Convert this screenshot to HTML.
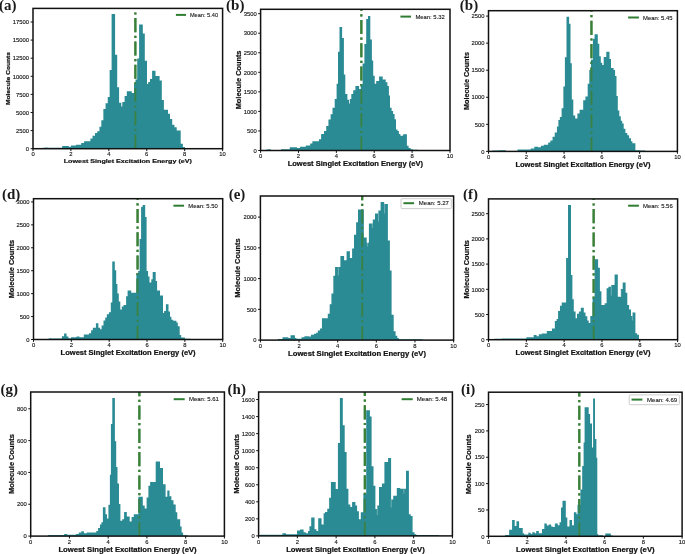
<!DOCTYPE html>
<html>
<head>
<meta charset="utf-8">
<title>Lowest Singlet Excitation Energy histograms</title>
<style>
html,body{margin:0;padding:0;background:#fff;}
body{width:685px;height:554px;overflow:hidden;font-family:"Liberation Sans",sans-serif;}
svg{display:block;will-change:transform;}
svg text{font-family:"Liberation Sans",sans-serif;}
svg text.pl{font-family:"Liberation Serif",serif;}
</style>
</head>
<body>
<svg width="685" height="554" viewBox="0 0 685 554">
<rect x="0" y="0" width="685" height="554" fill="#ffffff"/>
<g>
<line x1="135.38" y1="148.7" x2="135.38" y2="8.4" stroke="#2e7d32" stroke-width="2.2" stroke-dasharray="14.1 3.5 2.2 3.5"/>
<polygon points="42.48,148.7 42.48,147.75 45.04,147.75 45.04,147.45 47.6,147.45 47.6,147.81 62.2,147.81 62.2,145.91 68.77,145.91 68.77,146.64 70.96,146.64 70.96,145.62 76.07,145.62 76.07,144.74 81.18,144.74 81.18,142.99 84.09,142.99 84.09,141.24 90.37,141.24 90.37,138.61 92.56,138.61 92.56,135.69 95.04,135.69 95.04,133.07 97.23,133.07 97.23,131.31 99.42,131.31 99.42,126.64 101.32,126.64 101.32,120.36 103.36,120.36 103.36,109.12 105.55,109.12 105.55,103.28 107.74,103.28 107.74,97.01 109.64,97.01 109.64,70 111.6,70 111.6,14.1 115.1,14.1 115.1,54.7 117.2,54.7 117.2,87.2 119.1,87.2 119.1,102.8 121.3,102.8 121.3,106.5 122.3,106.5 122.3,102.1 124.6,102.1 124.6,96 126.8,96 126.8,91.2 131.8,91.2 131.8,93 134,93 134,83.9 135.5,83.9 135.5,79.5 137.2,79.5 137.2,58.4 139.1,58.4 139.1,24.5 142.8,24.5 142.8,33.5 144.8,33.5 144.8,60.8 147,60.8 147,83.9 148.2,83.9 148.2,82 150,82 150,79.1 152.1,79.1 152.1,70.8 155.5,70.8 155.5,75.9 159.6,75.9 159.6,80.6 161.8,80.6 161.8,99.9 163.9,99.9 163.9,109.7 168,109.7 168,113.8 170,113.8 170,118.9 172.2,118.9 172.2,124.7 174.4,124.7 174.4,127.2 176.7,127.2 176.7,130.6 180.7,130.6 180.7,143.7 182.9,143.7 182.9,147 185,147 185,148.2 200,148.2 200,147.9 209.33,147.9 209.33,148.7" fill="#2a8b94"/>
<line x1="135.38" y1="148.7" x2="135.38" y2="8.4" stroke="#3c8038" stroke-width="1.9" stroke-opacity="0.85" stroke-dasharray="14.1 3.5 2.2 3.5"/>
<rect x="33" y="8.4" width="189.6" height="140.3" fill="none" stroke="#111" stroke-width="1.5"/>
<line x1="33" y1="148.7" x2="33" y2="151.1" stroke="#111" stroke-width="1"/>
<text x="33" y="156.4" font-size="5.4" text-anchor="middle" textLength="3.25" lengthAdjust="spacingAndGlyphs" stroke="#111" stroke-width="0.12" fill="#111">0</text>
<line x1="70.92" y1="148.7" x2="70.92" y2="151.1" stroke="#111" stroke-width="1"/>
<text x="70.92" y="156.4" font-size="5.4" text-anchor="middle" textLength="3.25" lengthAdjust="spacingAndGlyphs" stroke="#111" stroke-width="0.12" fill="#111">2</text>
<line x1="108.84" y1="148.7" x2="108.84" y2="151.1" stroke="#111" stroke-width="1"/>
<text x="108.84" y="156.4" font-size="5.4" text-anchor="middle" textLength="3.25" lengthAdjust="spacingAndGlyphs" stroke="#111" stroke-width="0.12" fill="#111">4</text>
<line x1="146.76" y1="148.7" x2="146.76" y2="151.1" stroke="#111" stroke-width="1"/>
<text x="146.76" y="156.4" font-size="5.4" text-anchor="middle" textLength="3.25" lengthAdjust="spacingAndGlyphs" stroke="#111" stroke-width="0.12" fill="#111">6</text>
<line x1="184.68" y1="148.7" x2="184.68" y2="151.1" stroke="#111" stroke-width="1"/>
<text x="184.68" y="156.4" font-size="5.4" text-anchor="middle" textLength="3.25" lengthAdjust="spacingAndGlyphs" stroke="#111" stroke-width="0.12" fill="#111">8</text>
<line x1="222.6" y1="148.7" x2="222.6" y2="151.1" stroke="#111" stroke-width="1"/>
<text x="222.6" y="156.4" font-size="5.4" text-anchor="middle" textLength="6.5" lengthAdjust="spacingAndGlyphs" stroke="#111" stroke-width="0.12" fill="#111">10</text>
<line x1="30.6" y1="148.7" x2="33" y2="148.7" stroke="#111" stroke-width="1"/>
<text x="29.1" y="150.9" font-size="5.4" text-anchor="end" textLength="3.25" lengthAdjust="spacingAndGlyphs" stroke="#111" stroke-width="0.12" fill="#111">0</text>
<line x1="30.6" y1="130.6" x2="33" y2="130.6" stroke="#111" stroke-width="1"/>
<text x="29.1" y="132.8" font-size="5.4" text-anchor="end" textLength="13" lengthAdjust="spacingAndGlyphs" stroke="#111" stroke-width="0.12" fill="#111">2500</text>
<line x1="30.6" y1="112.5" x2="33" y2="112.5" stroke="#111" stroke-width="1"/>
<text x="29.1" y="114.7" font-size="5.4" text-anchor="end" textLength="13" lengthAdjust="spacingAndGlyphs" stroke="#111" stroke-width="0.12" fill="#111">5000</text>
<line x1="30.6" y1="94.4" x2="33" y2="94.4" stroke="#111" stroke-width="1"/>
<text x="29.1" y="96.6" font-size="5.4" text-anchor="end" textLength="13" lengthAdjust="spacingAndGlyphs" stroke="#111" stroke-width="0.12" fill="#111">7500</text>
<line x1="30.6" y1="76.3" x2="33" y2="76.3" stroke="#111" stroke-width="1"/>
<text x="29.1" y="78.5" font-size="5.4" text-anchor="end" textLength="16.25" lengthAdjust="spacingAndGlyphs" stroke="#111" stroke-width="0.12" fill="#111">10000</text>
<line x1="30.6" y1="58.2" x2="33" y2="58.2" stroke="#111" stroke-width="1"/>
<text x="29.1" y="60.4" font-size="5.4" text-anchor="end" textLength="16.25" lengthAdjust="spacingAndGlyphs" stroke="#111" stroke-width="0.12" fill="#111">12500</text>
<line x1="30.6" y1="40.1" x2="33" y2="40.1" stroke="#111" stroke-width="1"/>
<text x="29.1" y="42.3" font-size="5.4" text-anchor="end" textLength="16.25" lengthAdjust="spacingAndGlyphs" stroke="#111" stroke-width="0.12" fill="#111">15000</text>
<line x1="30.6" y1="22" x2="33" y2="22" stroke="#111" stroke-width="1"/>
<text x="29.1" y="24.2" font-size="5.4" text-anchor="end" textLength="16.25" lengthAdjust="spacingAndGlyphs" stroke="#111" stroke-width="0.12" fill="#111">17500</text>
<text x="127.8" y="162.9" font-size="6.01" font-weight="bold" text-anchor="middle" textLength="128.2" lengthAdjust="spacingAndGlyphs" stroke="#111" stroke-width="0.2" fill="#111">Lowest Singlet Excitation Energy (eV)</text>
<text transform="translate(9.78 78.55) rotate(-90)" font-size="6.01" font-weight="bold" text-anchor="middle" textLength="53" lengthAdjust="spacingAndGlyphs" stroke="#111" stroke-width="0.2" fill="#111">Molecule Counts</text>
<line x1="175.9" y1="14.9" x2="186" y2="14.9" stroke="#2e7d32" stroke-width="2"/>
<text x="189.9" y="17" font-size="5.5" textLength="28.2" lengthAdjust="spacingAndGlyphs" stroke="#111" stroke-width="0.1" fill="#111">Mean: 5.40</text>
<text class="pl" x="-1" y="9.9" font-size="15" font-weight="bold" fill="#1a1a1a">(a)</text>
</g>
<g>
<line x1="361.36" y1="150.5" x2="361.36" y2="9.3" stroke="#2e7d32" stroke-width="2.2" stroke-dasharray="14.1 3.5 2.2 3.5"/>
<polygon points="266.28,150.5 266.28,149.55 268.52,149.55 268.52,149.25 270.76,149.25 270.76,149.96 280.98,149.96 280.98,149.37 289.74,149.37 289.74,147.18 297.04,147.18 297.04,147.91 299.96,147.91 299.96,146.74 305.8,146.74 305.8,145.43 310.18,145.43 310.18,143.53 312.36,143.53 312.36,141.34 318.93,141.34 318.93,139.15 321.12,139.15 321.12,134.04 324.04,134.04 324.04,131.12 326.23,131.12 326.23,126.01 328.42,126.01 328.42,119.45 330.61,119.45 330.61,114.34 332.51,114.34 332.51,107.77 334.7,107.77 334.7,99 336.5,99 336.5,99.01 336.6,99.01 336.6,83.8 338,83.8 338,51.8 339.5,51.8 339.5,27 342.1,27 342.1,37.9 343.9,37.9 343.9,74.4 345.3,74.4 345.3,93.9 347.4,93.9 347.4,99.7 349,99.7 349,103.4 349.8,103.4 349.8,99 351.3,99 351.3,93.9 353.2,93.9 353.2,90.2 355.4,90.2 355.4,85.9 359.1,85.9 359.1,88.9 360.8,88.9 360.8,84.5 362.6,84.5 362.6,63.4 364.4,63.4 364.4,43.9 366.2,43.9 366.2,18.9 368,18.9 368,16.1 370.3,16.1 370.3,39.5 371.9,39.5 371.9,60.4 373.2,60.4 373.2,75.8 374.7,75.8 374.7,83.8 376.2,83.8 376.2,80.9 379.1,80.9 379.1,76.5 382.7,76.5 382.7,79.4 385.7,79.4 385.7,82.3 387.4,82.3 387.4,86 388.9,86 388.9,95.5 390,95.5 390,107.8 391.6,107.8 391.6,110.9 393.1,110.9 393.1,113.9 394.6,113.9 394.6,119.3 396,119.3 396,129.4 397.5,129.4 397.5,131.1 398.9,131.1 398.9,134.1 400.4,134.1 400.4,135.8 403.1,135.8 403.1,134.3 406.9,134.3 406.9,145.7 408.6,145.7 408.6,148.1 410.6,148.1 410.6,149.2 412.7,149.2 412.7,149.7 417.8,149.7 417.8,150.5" fill="#2a8b94"/>
<line x1="361.36" y1="150.5" x2="361.36" y2="9.3" stroke="#3c8038" stroke-width="1.9" stroke-opacity="0.85" stroke-dasharray="14.1 3.5 2.2 3.5"/>
<rect x="260.6" y="9.3" width="189.4" height="141.2" fill="none" stroke="#111" stroke-width="1.5"/>
<line x1="260.6" y1="150.5" x2="260.6" y2="152.9" stroke="#111" stroke-width="1"/>
<text x="260.6" y="158.2" font-size="5.4" text-anchor="middle" textLength="3.25" lengthAdjust="spacingAndGlyphs" stroke="#111" stroke-width="0.12" fill="#111">0</text>
<line x1="298.48" y1="150.5" x2="298.48" y2="152.9" stroke="#111" stroke-width="1"/>
<text x="298.48" y="158.2" font-size="5.4" text-anchor="middle" textLength="3.25" lengthAdjust="spacingAndGlyphs" stroke="#111" stroke-width="0.12" fill="#111">2</text>
<line x1="336.36" y1="150.5" x2="336.36" y2="152.9" stroke="#111" stroke-width="1"/>
<text x="336.36" y="158.2" font-size="5.4" text-anchor="middle" textLength="3.25" lengthAdjust="spacingAndGlyphs" stroke="#111" stroke-width="0.12" fill="#111">4</text>
<line x1="374.24" y1="150.5" x2="374.24" y2="152.9" stroke="#111" stroke-width="1"/>
<text x="374.24" y="158.2" font-size="5.4" text-anchor="middle" textLength="3.25" lengthAdjust="spacingAndGlyphs" stroke="#111" stroke-width="0.12" fill="#111">6</text>
<line x1="412.12" y1="150.5" x2="412.12" y2="152.9" stroke="#111" stroke-width="1"/>
<text x="412.12" y="158.2" font-size="5.4" text-anchor="middle" textLength="3.25" lengthAdjust="spacingAndGlyphs" stroke="#111" stroke-width="0.12" fill="#111">8</text>
<line x1="450" y1="150.5" x2="450" y2="152.9" stroke="#111" stroke-width="1"/>
<text x="450" y="158.2" font-size="5.4" text-anchor="middle" textLength="6.5" lengthAdjust="spacingAndGlyphs" stroke="#111" stroke-width="0.12" fill="#111">10</text>
<line x1="258.2" y1="150.5" x2="260.6" y2="150.5" stroke="#111" stroke-width="1"/>
<text x="256.7" y="152.7" font-size="5.4" text-anchor="end" textLength="3.25" lengthAdjust="spacingAndGlyphs" stroke="#111" stroke-width="0.12" fill="#111">0</text>
<line x1="258.2" y1="130.95" x2="260.6" y2="130.95" stroke="#111" stroke-width="1"/>
<text x="256.7" y="133.15" font-size="5.4" text-anchor="end" textLength="9.75" lengthAdjust="spacingAndGlyphs" stroke="#111" stroke-width="0.12" fill="#111">500</text>
<line x1="258.2" y1="111.4" x2="260.6" y2="111.4" stroke="#111" stroke-width="1"/>
<text x="256.7" y="113.6" font-size="5.4" text-anchor="end" textLength="13" lengthAdjust="spacingAndGlyphs" stroke="#111" stroke-width="0.12" fill="#111">1000</text>
<line x1="258.2" y1="91.85" x2="260.6" y2="91.85" stroke="#111" stroke-width="1"/>
<text x="256.7" y="94.05" font-size="5.4" text-anchor="end" textLength="13" lengthAdjust="spacingAndGlyphs" stroke="#111" stroke-width="0.12" fill="#111">1500</text>
<line x1="258.2" y1="72.3" x2="260.6" y2="72.3" stroke="#111" stroke-width="1"/>
<text x="256.7" y="74.5" font-size="5.4" text-anchor="end" textLength="13" lengthAdjust="spacingAndGlyphs" stroke="#111" stroke-width="0.12" fill="#111">2000</text>
<line x1="258.2" y1="52.75" x2="260.6" y2="52.75" stroke="#111" stroke-width="1"/>
<text x="256.7" y="54.95" font-size="5.4" text-anchor="end" textLength="13" lengthAdjust="spacingAndGlyphs" stroke="#111" stroke-width="0.12" fill="#111">2500</text>
<line x1="258.2" y1="33.2" x2="260.6" y2="33.2" stroke="#111" stroke-width="1"/>
<text x="256.7" y="35.4" font-size="5.4" text-anchor="end" textLength="13" lengthAdjust="spacingAndGlyphs" stroke="#111" stroke-width="0.12" fill="#111">3000</text>
<line x1="258.2" y1="13.65" x2="260.6" y2="13.65" stroke="#111" stroke-width="1"/>
<text x="256.7" y="15.85" font-size="5.4" text-anchor="end" textLength="13" lengthAdjust="spacingAndGlyphs" stroke="#111" stroke-width="0.12" fill="#111">3500</text>
<text x="355.3" y="165.59" font-size="6.35" font-weight="bold" text-anchor="middle" textLength="135.3" lengthAdjust="spacingAndGlyphs" stroke="#111" stroke-width="0.2" fill="#111">Lowest Singlet Excitation Energy (eV)</text>
<text transform="translate(240.81 79.9) rotate(-90)" font-size="6.35" font-weight="bold" text-anchor="middle" textLength="58.7" lengthAdjust="spacingAndGlyphs" stroke="#111" stroke-width="0.2" fill="#111">Molecule Counts</text>
<line x1="400.4" y1="16.6" x2="411" y2="16.6" stroke="#2e7d32" stroke-width="2"/>
<text x="415.4" y="18.7" font-size="5.5" textLength="29.4" lengthAdjust="spacingAndGlyphs" stroke="#111" stroke-width="0.1" fill="#111">Mean: 5.32</text>
<text class="pl" x="226.1" y="10.2" font-size="15" font-weight="bold" fill="#1a1a1a">(b)</text>
</g>
<g>
<line x1="591.45" y1="151.4" x2="591.45" y2="10.7" stroke="#2e7d32" stroke-width="2.2" stroke-dasharray="14.1 3.5 2.2 3.5"/>
<polygon points="492.28,151.4 492.28,150.45 499.06,150.45 499.06,150.15 505.84,150.15 505.84,150.93 517.52,150.93 517.52,149.62 530.66,149.62 530.66,148.45 534.31,148.45 534.31,146.7 537.96,146.7 537.96,147.28 540.88,147.28 540.88,145.82 543.8,145.82 543.8,144.8 548.18,144.8 548.18,142.61 550.36,142.61 550.36,140.42 552.55,140.42 552.55,136.77 554.74,136.77 554.74,132.39 556.93,132.39 556.93,126.55 558.39,126.55 558.39,119.99 559.85,119.99 559.85,117.07 561.61,117.07 561.61,108.31 563.36,108.31 563.36,86.6 564.9,86.6 564.9,57.3 566.5,57.3 566.5,16.8 569.1,16.8 569.1,23.8 570.5,23.8 570.5,63.2 571.8,63.2 571.8,99.5 573.3,99.5 573.3,115.6 575.2,115.6 575.2,118.5 577.4,118.5 577.4,113.4 579.6,113.4 579.6,109.8 583.2,109.8 583.2,100.3 585.4,100.3 585.4,96.6 587.7,96.6 587.7,83.7 589.3,83.7 589.3,70 591,70 591,59.8 592.9,59.8 592.9,38.7 594.6,38.7 594.6,34.3 597.8,34.3 597.8,43.8 599.3,43.8 599.3,56.2 600.8,56.2 600.8,62.7 602.2,62.7 602.2,64.9 603.7,64.9 603.7,56.9 606.3,56.9 606.3,51.8 609.5,51.8 609.5,59.1 611,59.1 611,67.9 613.6,67.9 613.6,70 615.1,70 615.1,75.9 616.5,75.9 616.5,95.9 617.8,95.9 617.8,110.5 619.3,110.5 619.3,116.3 620.8,116.3 620.8,120.7 622.2,120.7 622.2,123.6 623.7,123.6 623.7,128.7 625.4,128.7 625.4,133.1 627.3,133.1 627.3,135.3 629.1,135.3 629.1,138.2 631,138.2 631,141.2 632.4,141.2 632.4,143.3 635.4,143.3 635.4,150.2 639.7,150.2 639.7,150.6 645.29,150.6 645.29,151.4" fill="#2a8b94"/>
<line x1="591.45" y1="151.4" x2="591.45" y2="10.7" stroke="#3c8038" stroke-width="1.9" stroke-opacity="0.85" stroke-dasharray="14.1 3.5 2.2 3.5"/>
<rect x="488.5" y="10.7" width="188.9" height="140.7" fill="none" stroke="#111" stroke-width="1.5"/>
<line x1="488.5" y1="151.4" x2="488.5" y2="153.8" stroke="#111" stroke-width="1"/>
<text x="488.5" y="159.1" font-size="5.4" text-anchor="middle" textLength="3.25" lengthAdjust="spacingAndGlyphs" stroke="#111" stroke-width="0.12" fill="#111">0</text>
<line x1="526.28" y1="151.4" x2="526.28" y2="153.8" stroke="#111" stroke-width="1"/>
<text x="526.28" y="159.1" font-size="5.4" text-anchor="middle" textLength="3.25" lengthAdjust="spacingAndGlyphs" stroke="#111" stroke-width="0.12" fill="#111">2</text>
<line x1="564.06" y1="151.4" x2="564.06" y2="153.8" stroke="#111" stroke-width="1"/>
<text x="564.06" y="159.1" font-size="5.4" text-anchor="middle" textLength="3.25" lengthAdjust="spacingAndGlyphs" stroke="#111" stroke-width="0.12" fill="#111">4</text>
<line x1="601.84" y1="151.4" x2="601.84" y2="153.8" stroke="#111" stroke-width="1"/>
<text x="601.84" y="159.1" font-size="5.4" text-anchor="middle" textLength="3.25" lengthAdjust="spacingAndGlyphs" stroke="#111" stroke-width="0.12" fill="#111">6</text>
<line x1="639.62" y1="151.4" x2="639.62" y2="153.8" stroke="#111" stroke-width="1"/>
<text x="639.62" y="159.1" font-size="5.4" text-anchor="middle" textLength="3.25" lengthAdjust="spacingAndGlyphs" stroke="#111" stroke-width="0.12" fill="#111">8</text>
<line x1="677.4" y1="151.4" x2="677.4" y2="153.8" stroke="#111" stroke-width="1"/>
<text x="677.4" y="159.1" font-size="5.4" text-anchor="middle" textLength="6.5" lengthAdjust="spacingAndGlyphs" stroke="#111" stroke-width="0.12" fill="#111">10</text>
<line x1="486.1" y1="151.4" x2="488.5" y2="151.4" stroke="#111" stroke-width="1"/>
<text x="484.6" y="153.6" font-size="5.4" text-anchor="end" textLength="3.25" lengthAdjust="spacingAndGlyphs" stroke="#111" stroke-width="0.12" fill="#111">0</text>
<line x1="486.1" y1="124.34" x2="488.5" y2="124.34" stroke="#111" stroke-width="1"/>
<text x="484.6" y="126.54" font-size="5.4" text-anchor="end" textLength="9.75" lengthAdjust="spacingAndGlyphs" stroke="#111" stroke-width="0.12" fill="#111">500</text>
<line x1="486.1" y1="97.28" x2="488.5" y2="97.28" stroke="#111" stroke-width="1"/>
<text x="484.6" y="99.48" font-size="5.4" text-anchor="end" textLength="13" lengthAdjust="spacingAndGlyphs" stroke="#111" stroke-width="0.12" fill="#111">1000</text>
<line x1="486.1" y1="70.22" x2="488.5" y2="70.22" stroke="#111" stroke-width="1"/>
<text x="484.6" y="72.42" font-size="5.4" text-anchor="end" textLength="13" lengthAdjust="spacingAndGlyphs" stroke="#111" stroke-width="0.12" fill="#111">1500</text>
<line x1="486.1" y1="43.16" x2="488.5" y2="43.16" stroke="#111" stroke-width="1"/>
<text x="484.6" y="45.36" font-size="5.4" text-anchor="end" textLength="13" lengthAdjust="spacingAndGlyphs" stroke="#111" stroke-width="0.12" fill="#111">2000</text>
<line x1="486.1" y1="16.1" x2="488.5" y2="16.1" stroke="#111" stroke-width="1"/>
<text x="484.6" y="18.3" font-size="5.4" text-anchor="end" textLength="13" lengthAdjust="spacingAndGlyphs" stroke="#111" stroke-width="0.12" fill="#111">2500</text>
<text x="582.95" y="166.58" font-size="6.33" font-weight="bold" text-anchor="middle" textLength="135" lengthAdjust="spacingAndGlyphs" stroke="#111" stroke-width="0.2" fill="#111">Lowest Singlet Excitation Energy (eV)</text>
<text transform="translate(468.51 81.05) rotate(-90)" font-size="6.33" font-weight="bold" text-anchor="middle" textLength="58" lengthAdjust="spacingAndGlyphs" stroke="#111" stroke-width="0.2" fill="#111">Molecule Counts</text>
<line x1="628.1" y1="17.5" x2="638.9" y2="17.5" stroke="#2e7d32" stroke-width="2"/>
<text x="643" y="19.6" font-size="5.5" textLength="29.5" lengthAdjust="spacingAndGlyphs" stroke="#111" stroke-width="0.1" fill="#111">Mean: 5.45</text>
<text class="pl" x="459.8" y="10.3" font-size="15" font-weight="bold" fill="#1a1a1a">(b)</text>
</g>
<g>
<line x1="137.56" y1="339.5" x2="137.56" y2="198.7" stroke="#2e7d32" stroke-width="2.2" stroke-dasharray="14.1 3.5 2.2 3.5"/>
<polygon points="48.64,339.5 48.64,338.55 49.79,338.55 49.79,338.25 50.95,338.25 50.95,338.5 61.9,338.5 61.9,336.16 64.09,336.16 64.09,333.53 66.57,333.53 66.57,336.45 68.47,336.45 68.47,338.2 70.95,338.2 70.95,337.18 76.5,337.18 76.5,336.45 79.42,336.45 79.42,337.18 83.8,337.18 83.8,334.55 88.91,334.55 88.91,333.24 91.09,333.24 91.09,330.32 92.85,330.32 92.85,327.69 95.91,327.69 95.91,323.31 98.39,323.31 98.39,327.69 100.15,327.69 100.15,329.15 101.61,329.15 101.61,325.5 103.5,325.5 103.5,320.39 105.26,320.39 105.26,317.47 106.86,317.47 106.86,314.26 108.91,314.26 108.91,312.36 110.8,312.36 110.8,302.58 112.26,302.58 112.26,261.5 114.8,261.5 114.8,270.2 116.2,270.2 116.2,283.9 117.4,283.9 117.4,293.4 118.8,293.4 118.8,301.4 120.3,301.4 120.3,309.4 121.8,309.4 121.8,306.5 123.5,306.5 123.5,305.1 126.1,305.1 126.1,296.3 127.6,296.3 127.6,290.5 131.2,290.5 131.2,292.8 136.4,292.8 136.4,273.7 138.2,273.7 138.2,271 139.6,271 139.6,238.9 141.1,238.9 141.1,207 142.6,207 142.6,205 145.2,205 145.2,217 146.6,217 146.6,271 148.1,271 148.1,276.6 149.5,276.6 149.5,282.4 151.3,282.4 151.3,279.2 152.7,279.2 152.7,272 155.7,272 155.7,281 157.1,281 157.1,290.5 160,290.5 160,295.6 163,295.6 163,313.1 164.1,313.1 164.1,310.9 165.9,310.9 165.9,304.3 168.5,304.3 168.5,311.6 170,311.6 170,316.7 171.4,316.7 171.4,319.7 173.2,319.7 173.2,320.7 176.4,320.7 176.4,322.6 177.8,322.6 177.8,326.2 179.7,326.2 179.7,335 181.2,335 181.2,337.6 184.9,337.6 184.9,338.7 190.54,338.7 190.54,339.5" fill="#2a8b94"/>
<line x1="137.56" y1="339.5" x2="137.56" y2="198.7" stroke="#3c8038" stroke-width="1.9" stroke-opacity="0.85" stroke-dasharray="14.1 3.5 2.2 3.5"/>
<rect x="33.5" y="198.7" width="189.2" height="140.8" fill="none" stroke="#111" stroke-width="1.5"/>
<line x1="33.5" y1="339.5" x2="33.5" y2="341.9" stroke="#111" stroke-width="1"/>
<text x="33.5" y="347.2" font-size="5.4" text-anchor="middle" textLength="3.25" lengthAdjust="spacingAndGlyphs" stroke="#111" stroke-width="0.12" fill="#111">0</text>
<line x1="71.34" y1="339.5" x2="71.34" y2="341.9" stroke="#111" stroke-width="1"/>
<text x="71.34" y="347.2" font-size="5.4" text-anchor="middle" textLength="3.25" lengthAdjust="spacingAndGlyphs" stroke="#111" stroke-width="0.12" fill="#111">2</text>
<line x1="109.18" y1="339.5" x2="109.18" y2="341.9" stroke="#111" stroke-width="1"/>
<text x="109.18" y="347.2" font-size="5.4" text-anchor="middle" textLength="3.25" lengthAdjust="spacingAndGlyphs" stroke="#111" stroke-width="0.12" fill="#111">4</text>
<line x1="147.02" y1="339.5" x2="147.02" y2="341.9" stroke="#111" stroke-width="1"/>
<text x="147.02" y="347.2" font-size="5.4" text-anchor="middle" textLength="3.25" lengthAdjust="spacingAndGlyphs" stroke="#111" stroke-width="0.12" fill="#111">6</text>
<line x1="184.86" y1="339.5" x2="184.86" y2="341.9" stroke="#111" stroke-width="1"/>
<text x="184.86" y="347.2" font-size="5.4" text-anchor="middle" textLength="3.25" lengthAdjust="spacingAndGlyphs" stroke="#111" stroke-width="0.12" fill="#111">8</text>
<line x1="222.7" y1="339.5" x2="222.7" y2="341.9" stroke="#111" stroke-width="1"/>
<text x="222.7" y="347.2" font-size="5.4" text-anchor="middle" textLength="6.5" lengthAdjust="spacingAndGlyphs" stroke="#111" stroke-width="0.12" fill="#111">10</text>
<line x1="31.1" y1="339.5" x2="33.5" y2="339.5" stroke="#111" stroke-width="1"/>
<text x="29.6" y="341.7" font-size="5.4" text-anchor="end" textLength="3.25" lengthAdjust="spacingAndGlyphs" stroke="#111" stroke-width="0.12" fill="#111">0</text>
<line x1="31.1" y1="316.57" x2="33.5" y2="316.57" stroke="#111" stroke-width="1"/>
<text x="29.6" y="318.77" font-size="5.4" text-anchor="end" textLength="9.75" lengthAdjust="spacingAndGlyphs" stroke="#111" stroke-width="0.12" fill="#111">500</text>
<line x1="31.1" y1="293.64" x2="33.5" y2="293.64" stroke="#111" stroke-width="1"/>
<text x="29.6" y="295.84" font-size="5.4" text-anchor="end" textLength="13" lengthAdjust="spacingAndGlyphs" stroke="#111" stroke-width="0.12" fill="#111">1000</text>
<line x1="31.1" y1="270.71" x2="33.5" y2="270.71" stroke="#111" stroke-width="1"/>
<text x="29.6" y="272.91" font-size="5.4" text-anchor="end" textLength="13" lengthAdjust="spacingAndGlyphs" stroke="#111" stroke-width="0.12" fill="#111">1500</text>
<line x1="31.1" y1="247.78" x2="33.5" y2="247.78" stroke="#111" stroke-width="1"/>
<text x="29.6" y="249.98" font-size="5.4" text-anchor="end" textLength="13" lengthAdjust="spacingAndGlyphs" stroke="#111" stroke-width="0.12" fill="#111">2000</text>
<line x1="31.1" y1="224.85" x2="33.5" y2="224.85" stroke="#111" stroke-width="1"/>
<text x="29.6" y="227.05" font-size="5.4" text-anchor="end" textLength="13" lengthAdjust="spacingAndGlyphs" stroke="#111" stroke-width="0.12" fill="#111">2500</text>
<line x1="31.1" y1="201.92" x2="33.5" y2="201.92" stroke="#111" stroke-width="1"/>
<text x="29.6" y="204.12" font-size="5.4" text-anchor="end" textLength="13" lengthAdjust="spacingAndGlyphs" stroke="#111" stroke-width="0.12" fill="#111">3000</text>
<text x="128.1" y="354.58" font-size="6.33" font-weight="bold" text-anchor="middle" textLength="135" lengthAdjust="spacingAndGlyphs" stroke="#111" stroke-width="0.2" fill="#111">Lowest Singlet Excitation Energy (eV)</text>
<text transform="translate(13.51 269.1) rotate(-90)" font-size="6.33" font-weight="bold" text-anchor="middle" textLength="58.5" lengthAdjust="spacingAndGlyphs" stroke="#111" stroke-width="0.2" fill="#111">Molecule Counts</text>
<line x1="173.4" y1="205.7" x2="184.1" y2="205.7" stroke="#2e7d32" stroke-width="2"/>
<text x="188.3" y="207.8" font-size="5.5" textLength="29.5" lengthAdjust="spacingAndGlyphs" stroke="#111" stroke-width="0.1" fill="#111">Mean: 5.50</text>
<text class="pl" x="1.9" y="198.7" font-size="15" font-weight="bold" fill="#1a1a1a">(d)</text>
</g>
<g>
<line x1="362.22" y1="340.1" x2="362.22" y2="196" stroke="#2e7d32" stroke-width="2.2" stroke-dasharray="14.1 3.5 2.2 3.5"/>
<polygon points="277.79,340.1 277.79,339.15 278.33,339.15 278.33,338.85 278.87,338.85 278.87,338.93 282.52,338.93 282.52,337.18 288.36,337.18 288.36,337.91 290.55,337.91 290.55,335.28 294.93,335.28 294.93,337.91 296.39,337.91 296.39,338.79 301.5,338.79 301.5,337.18 304.42,337.18 304.42,336.16 308.8,336.16 308.8,336.45 310.99,336.45 310.99,334.7 313.91,334.7 313.91,333.82 316.09,333.82 316.09,332.8 317.85,332.8 317.85,330.61 320.04,330.61 320.04,328.42 321.93,328.42 321.93,318.2 327.77,318.2 327.77,313.82 329.67,313.82 329.67,304.34 331.42,304.34 331.42,293.39 333.32,293.39 333.32,275.87 335.07,275.87 335.07,267.1 340.4,267.1 340.4,255.9 344.1,255.9 344.1,260.2 346.6,260.2 346.6,251.2 349.9,251.2 349.9,258 352.1,258 352.1,248.6 354,248.6 354,234.7 356.1,234.7 356.1,222.3 358,222.3 358,209.6 363.8,209.6 363.8,237.6 366.7,237.6 366.7,242.7 368.9,242.7 368.9,223.4 372.8,223.4 372.8,219.4 375,219.4 375,213.5 378.4,213.5 378.4,210.6 380.6,210.6 380.6,202.1 384.2,202.1 384.2,204 387.9,204 387.9,240.5 389.9,240.5 389.9,270.5 391.6,270.5 391.6,314.8 393.7,314.8 393.7,331.3 395.6,331.3 395.6,335.7 397.3,335.7 397.3,337.9 398.8,337.9 398.8,339.3 413,339.3 413,339.3 422.69,339.3 422.69,340.1" fill="#2a8b94"/>
<line x1="384.6" y1="203.6" x2="384.6" y2="213.5" stroke="#fff" stroke-width="0.55" stroke-opacity="0.6"/>
<line x1="378.5" y1="213.5" x2="378.5" y2="221.5" stroke="#fff" stroke-width="0.55" stroke-opacity="0.6"/>
<line x1="372.4" y1="223.5" x2="372.4" y2="228" stroke="#fff" stroke-width="0.55" stroke-opacity="0.6"/>
<line x1="367.6" y1="241" x2="367.6" y2="246.5" stroke="#fff" stroke-width="0.55" stroke-opacity="0.6"/>
<line x1="338.3" y1="267.3" x2="338.3" y2="275.5" stroke="#fff" stroke-width="0.55" stroke-opacity="0.6"/>
<line x1="362.22" y1="340.1" x2="362.22" y2="196" stroke="#3c8038" stroke-width="1.9" stroke-opacity="0.85" stroke-dasharray="14.1 3.5 2.2 3.5"/>
<rect x="260.4" y="196" width="193.2" height="144.1" fill="none" stroke="#111" stroke-width="1.5"/>
<line x1="260.4" y1="340.1" x2="260.4" y2="342.5" stroke="#111" stroke-width="1"/>
<text x="260.4" y="347.8" font-size="5.4" text-anchor="middle" textLength="3.25" lengthAdjust="spacingAndGlyphs" stroke="#111" stroke-width="0.12" fill="#111">0</text>
<line x1="299.04" y1="340.1" x2="299.04" y2="342.5" stroke="#111" stroke-width="1"/>
<text x="299.04" y="347.8" font-size="5.4" text-anchor="middle" textLength="3.25" lengthAdjust="spacingAndGlyphs" stroke="#111" stroke-width="0.12" fill="#111">2</text>
<line x1="337.68" y1="340.1" x2="337.68" y2="342.5" stroke="#111" stroke-width="1"/>
<text x="337.68" y="347.8" font-size="5.4" text-anchor="middle" textLength="3.25" lengthAdjust="spacingAndGlyphs" stroke="#111" stroke-width="0.12" fill="#111">4</text>
<line x1="376.32" y1="340.1" x2="376.32" y2="342.5" stroke="#111" stroke-width="1"/>
<text x="376.32" y="347.8" font-size="5.4" text-anchor="middle" textLength="3.25" lengthAdjust="spacingAndGlyphs" stroke="#111" stroke-width="0.12" fill="#111">6</text>
<line x1="414.96" y1="340.1" x2="414.96" y2="342.5" stroke="#111" stroke-width="1"/>
<text x="414.96" y="347.8" font-size="5.4" text-anchor="middle" textLength="3.25" lengthAdjust="spacingAndGlyphs" stroke="#111" stroke-width="0.12" fill="#111">8</text>
<line x1="453.6" y1="340.1" x2="453.6" y2="342.5" stroke="#111" stroke-width="1"/>
<text x="453.6" y="347.8" font-size="5.4" text-anchor="middle" textLength="6.5" lengthAdjust="spacingAndGlyphs" stroke="#111" stroke-width="0.12" fill="#111">10</text>
<line x1="258" y1="340.1" x2="260.4" y2="340.1" stroke="#111" stroke-width="1"/>
<text x="256.5" y="342.3" font-size="5.4" text-anchor="end" textLength="3.25" lengthAdjust="spacingAndGlyphs" stroke="#111" stroke-width="0.12" fill="#111">0</text>
<line x1="258" y1="309.35" x2="260.4" y2="309.35" stroke="#111" stroke-width="1"/>
<text x="256.5" y="311.55" font-size="5.4" text-anchor="end" textLength="9.75" lengthAdjust="spacingAndGlyphs" stroke="#111" stroke-width="0.12" fill="#111">500</text>
<line x1="258" y1="278.6" x2="260.4" y2="278.6" stroke="#111" stroke-width="1"/>
<text x="256.5" y="280.8" font-size="5.4" text-anchor="end" textLength="13" lengthAdjust="spacingAndGlyphs" stroke="#111" stroke-width="0.12" fill="#111">1000</text>
<line x1="258" y1="247.85" x2="260.4" y2="247.85" stroke="#111" stroke-width="1"/>
<text x="256.5" y="250.05" font-size="5.4" text-anchor="end" textLength="13" lengthAdjust="spacingAndGlyphs" stroke="#111" stroke-width="0.12" fill="#111">1500</text>
<line x1="258" y1="217.1" x2="260.4" y2="217.1" stroke="#111" stroke-width="1"/>
<text x="256.5" y="219.3" font-size="5.4" text-anchor="end" textLength="13" lengthAdjust="spacingAndGlyphs" stroke="#111" stroke-width="0.12" fill="#111">2000</text>
<text x="357" y="355.62" font-size="6.47" font-weight="bold" text-anchor="middle" textLength="138" lengthAdjust="spacingAndGlyphs" stroke="#111" stroke-width="0.2" fill="#111">Lowest Singlet Excitation Energy (eV)</text>
<text transform="translate(240.26 268.05) rotate(-90)" font-size="6.47" font-weight="bold" text-anchor="middle" textLength="59.4" lengthAdjust="spacingAndGlyphs" stroke="#111" stroke-width="0.2" fill="#111">Molecule Counts</text>
<rect x="401" y="198.7" width="50.3" height="9.9" rx="1" ry="1" fill="#fff" fill-opacity="0.8" stroke="#c6c6c6" stroke-width="0.9"/>
<line x1="403.4" y1="203.2" x2="414.1" y2="203.2" stroke="#2e7d32" stroke-width="2"/>
<text x="418.8" y="205.3" font-size="5.5" textLength="30.1" lengthAdjust="spacingAndGlyphs" stroke="#111" stroke-width="0.1" fill="#111">Mean: 5.27</text>
<text class="pl" x="228.7" y="198.6" font-size="15" font-weight="bold" fill="#1a1a1a">(e)</text>
</g>
<g>
<line x1="593.64" y1="339.7" x2="593.64" y2="198.9" stroke="#2e7d32" stroke-width="2.2" stroke-dasharray="14.1 3.5 2.2 3.5"/>
<polygon points="494.17,339.7 494.17,338.75 501.89,338.75 501.89,338.45 509.6,338.45 509.6,338.5 526.39,338.5 526.39,337.18 533.69,337.18 533.69,334.99 536.61,334.99 536.61,336.16 538.8,336.16 538.8,334.26 541.72,334.26 541.72,333.53 546.82,333.53 546.82,330.91 551.93,330.91 551.93,328.42 554.85,328.42 554.85,321.12 556.61,321.12 556.61,318.93 558.07,318.93 558.07,310.91 559.96,310.91 559.96,305.8 561.72,305.8 561.72,302.58 566.09,302.58 566.09,257.9 568,257.9 568,205 571,205 571,274.9 572.4,274.9 572.4,299.2 573.8,299.2 573.8,311.6 575.6,311.6 575.6,318.2 577,318.2 577,313.8 578.9,313.8 578.9,311.6 580.8,311.6 580.8,307.7 583.8,307.7 583.8,312.4 585.5,312.4 585.5,316.3 587.3,316.3 587.3,320.4 588.7,320.4 588.7,323 590.3,323 590.3,316 592.6,316 592.6,298 594.6,298 594.6,259.3 598.1,259.3 598.1,267.8 599.9,267.8 599.9,291.2 601.4,291.2 601.4,305.1 604.7,305.1 604.7,303.3 606.6,303.3 606.6,288.3 608.4,288.3 608.4,286.8 611.3,286.8 611.3,285.1 614.6,285.1 614.6,274.5 617.8,274.5 617.8,296.7 620.8,296.7 620.8,289 622.7,289 622.7,282.4 625.6,282.4 625.6,292.7 627.3,292.7 627.3,305.1 629.1,305.1 629.1,309.4 631,309.4 631,316 632.4,316 632.4,312.4 635.4,312.4 635.4,333.2 637.1,333.2 637.1,334.7 639,334.7 639,338.9 643.56,338.9 643.56,339.7" fill="#2a8b94"/>
<line x1="611.3" y1="286.8" x2="611.3" y2="295.6" stroke="#fff" stroke-width="0.55" stroke-opacity="0.6"/>
<line x1="620.8" y1="289.5" x2="620.8" y2="297" stroke="#fff" stroke-width="0.55" stroke-opacity="0.6"/>
<line x1="632.4" y1="313" x2="632.4" y2="320.5" stroke="#fff" stroke-width="0.55" stroke-opacity="0.6"/>
<line x1="593.64" y1="339.7" x2="593.64" y2="198.9" stroke="#3c8038" stroke-width="1.9" stroke-opacity="0.85" stroke-dasharray="14.1 3.5 2.2 3.5"/>
<rect x="488.5" y="198.9" width="189.1" height="140.8" fill="none" stroke="#111" stroke-width="1.5"/>
<line x1="488.5" y1="339.7" x2="488.5" y2="342.1" stroke="#111" stroke-width="1"/>
<text x="488.5" y="347.4" font-size="5.4" text-anchor="middle" textLength="3.25" lengthAdjust="spacingAndGlyphs" stroke="#111" stroke-width="0.12" fill="#111">0</text>
<line x1="526.32" y1="339.7" x2="526.32" y2="342.1" stroke="#111" stroke-width="1"/>
<text x="526.32" y="347.4" font-size="5.4" text-anchor="middle" textLength="3.25" lengthAdjust="spacingAndGlyphs" stroke="#111" stroke-width="0.12" fill="#111">2</text>
<line x1="564.14" y1="339.7" x2="564.14" y2="342.1" stroke="#111" stroke-width="1"/>
<text x="564.14" y="347.4" font-size="5.4" text-anchor="middle" textLength="3.25" lengthAdjust="spacingAndGlyphs" stroke="#111" stroke-width="0.12" fill="#111">4</text>
<line x1="601.96" y1="339.7" x2="601.96" y2="342.1" stroke="#111" stroke-width="1"/>
<text x="601.96" y="347.4" font-size="5.4" text-anchor="middle" textLength="3.25" lengthAdjust="spacingAndGlyphs" stroke="#111" stroke-width="0.12" fill="#111">6</text>
<line x1="639.78" y1="339.7" x2="639.78" y2="342.1" stroke="#111" stroke-width="1"/>
<text x="639.78" y="347.4" font-size="5.4" text-anchor="middle" textLength="3.25" lengthAdjust="spacingAndGlyphs" stroke="#111" stroke-width="0.12" fill="#111">8</text>
<line x1="677.6" y1="339.7" x2="677.6" y2="342.1" stroke="#111" stroke-width="1"/>
<text x="677.6" y="347.4" font-size="5.4" text-anchor="middle" textLength="6.5" lengthAdjust="spacingAndGlyphs" stroke="#111" stroke-width="0.12" fill="#111">10</text>
<line x1="486.1" y1="339.7" x2="488.5" y2="339.7" stroke="#111" stroke-width="1"/>
<text x="484.6" y="341.9" font-size="5.4" text-anchor="end" textLength="3.25" lengthAdjust="spacingAndGlyphs" stroke="#111" stroke-width="0.12" fill="#111">0</text>
<line x1="486.1" y1="314.5" x2="488.5" y2="314.5" stroke="#111" stroke-width="1"/>
<text x="484.6" y="316.7" font-size="5.4" text-anchor="end" textLength="9.75" lengthAdjust="spacingAndGlyphs" stroke="#111" stroke-width="0.12" fill="#111">500</text>
<line x1="486.1" y1="289.3" x2="488.5" y2="289.3" stroke="#111" stroke-width="1"/>
<text x="484.6" y="291.5" font-size="5.4" text-anchor="end" textLength="13" lengthAdjust="spacingAndGlyphs" stroke="#111" stroke-width="0.12" fill="#111">1000</text>
<line x1="486.1" y1="264.1" x2="488.5" y2="264.1" stroke="#111" stroke-width="1"/>
<text x="484.6" y="266.3" font-size="5.4" text-anchor="end" textLength="13" lengthAdjust="spacingAndGlyphs" stroke="#111" stroke-width="0.12" fill="#111">1500</text>
<line x1="486.1" y1="238.9" x2="488.5" y2="238.9" stroke="#111" stroke-width="1"/>
<text x="484.6" y="241.1" font-size="5.4" text-anchor="end" textLength="13" lengthAdjust="spacingAndGlyphs" stroke="#111" stroke-width="0.12" fill="#111">2000</text>
<line x1="486.1" y1="213.7" x2="488.5" y2="213.7" stroke="#111" stroke-width="1"/>
<text x="484.6" y="215.9" font-size="5.4" text-anchor="end" textLength="13" lengthAdjust="spacingAndGlyphs" stroke="#111" stroke-width="0.12" fill="#111">2500</text>
<text x="583.05" y="354.68" font-size="6.33" font-weight="bold" text-anchor="middle" textLength="135" lengthAdjust="spacingAndGlyphs" stroke="#111" stroke-width="0.2" fill="#111">Lowest Singlet Excitation Energy (eV)</text>
<text transform="translate(468.51 269.3) rotate(-90)" font-size="6.33" font-weight="bold" text-anchor="middle" textLength="58.5" lengthAdjust="spacingAndGlyphs" stroke="#111" stroke-width="0.2" fill="#111">Molecule Counts</text>
<line x1="628.1" y1="205.7" x2="638.9" y2="205.7" stroke="#2e7d32" stroke-width="2"/>
<text x="643" y="207.8" font-size="5.5" textLength="29.7" lengthAdjust="spacingAndGlyphs" stroke="#111" stroke-width="0.1" fill="#111">Mean: 5.56</text>
<text class="pl" x="463.1" y="198.6" font-size="15" font-weight="bold" fill="#1a1a1a">(f)</text>
</g>
<g>
<line x1="139.37" y1="536.1" x2="139.37" y2="392" stroke="#2e7d32" stroke-width="2.2" stroke-dasharray="14.1 3.5 2.2 3.5"/>
<polygon points="48.14,536.1 48.14,535.08 64.2,535.08 64.2,533.91 67.12,533.91 67.12,534.64 75.88,534.64 75.88,533.91 78.8,533.91 78.8,532.45 81.42,532.45 81.42,531.28 83.91,531.28 83.91,533.18 86.82,533.18 86.82,532.45 96.31,532.45 96.31,530.99 98.07,530.99 98.07,528.07 99.96,528.07 99.96,524.42 101.42,524.42 101.42,522.23 102.88,522.23 102.88,507.34 105.51,507.34 105.51,514.2 106.97,514.2 106.97,518.58 108.43,518.58 108.43,504.72 109.89,504.72 109.89,474.79 110.91,474.79 110.91,424.1 112.3,424.1 112.3,398.1 114.9,398.1 114.9,441.3 116.2,441.3 116.2,467 117.5,467 117.5,483.5 119,483.5 119,504 120.4,504 120.4,520.8 122.2,520.8 122.2,519.3 124.1,519.3 124.1,512 126.8,512 126.8,516.4 129.7,516.4 129.7,521.5 131.6,521.5 131.6,517 133.8,517 133.8,514.2 138.4,514.2 138.4,496.7 142.8,496.7 142.8,505.4 144.7,505.4 144.7,508.4 146.6,508.4 146.6,497.4 148.4,497.4 148.4,485.7 150.1,485.7 150.1,482.1 155.7,482.1 155.7,461.5 160,461.5 160,467.9 163,467.9 163,484.3 165.6,484.3 165.6,496.7 167.3,496.7 167.3,490.4 169.5,490.4 169.5,496.2 171.4,496.2 171.4,500.3 173.5,500.3 173.5,504.4 175.7,504.4 175.7,512.3 177.3,512.3 177.3,519.3 180.2,519.3 180.2,526.6 181.6,526.6 181.6,532.5 183.1,532.5 183.1,535.3 187.6,535.3 187.6,536.1" fill="#2a8b94"/>
<line x1="139.37" y1="536.1" x2="139.37" y2="392" stroke="#3c8038" stroke-width="1.9" stroke-opacity="0.85" stroke-dasharray="14.1 3.5 2.2 3.5"/>
<rect x="30.7" y="392" width="193.7" height="144.1" fill="none" stroke="#111" stroke-width="1.5"/>
<line x1="30.7" y1="536.1" x2="30.7" y2="538.5" stroke="#111" stroke-width="1"/>
<text x="30.7" y="543.8" font-size="5.4" text-anchor="middle" textLength="3.25" lengthAdjust="spacingAndGlyphs" stroke="#111" stroke-width="0.12" fill="#111">0</text>
<line x1="69.44" y1="536.1" x2="69.44" y2="538.5" stroke="#111" stroke-width="1"/>
<text x="69.44" y="543.8" font-size="5.4" text-anchor="middle" textLength="3.25" lengthAdjust="spacingAndGlyphs" stroke="#111" stroke-width="0.12" fill="#111">2</text>
<line x1="108.18" y1="536.1" x2="108.18" y2="538.5" stroke="#111" stroke-width="1"/>
<text x="108.18" y="543.8" font-size="5.4" text-anchor="middle" textLength="3.25" lengthAdjust="spacingAndGlyphs" stroke="#111" stroke-width="0.12" fill="#111">4</text>
<line x1="146.92" y1="536.1" x2="146.92" y2="538.5" stroke="#111" stroke-width="1"/>
<text x="146.92" y="543.8" font-size="5.4" text-anchor="middle" textLength="3.25" lengthAdjust="spacingAndGlyphs" stroke="#111" stroke-width="0.12" fill="#111">6</text>
<line x1="185.66" y1="536.1" x2="185.66" y2="538.5" stroke="#111" stroke-width="1"/>
<text x="185.66" y="543.8" font-size="5.4" text-anchor="middle" textLength="3.25" lengthAdjust="spacingAndGlyphs" stroke="#111" stroke-width="0.12" fill="#111">8</text>
<line x1="224.4" y1="536.1" x2="224.4" y2="538.5" stroke="#111" stroke-width="1"/>
<text x="224.4" y="543.8" font-size="5.4" text-anchor="middle" textLength="6.5" lengthAdjust="spacingAndGlyphs" stroke="#111" stroke-width="0.12" fill="#111">10</text>
<line x1="28.3" y1="536.1" x2="30.7" y2="536.1" stroke="#111" stroke-width="1"/>
<text x="26.8" y="538.3" font-size="5.4" text-anchor="end" textLength="3.25" lengthAdjust="spacingAndGlyphs" stroke="#111" stroke-width="0.12" fill="#111">0</text>
<line x1="28.3" y1="504.27" x2="30.7" y2="504.27" stroke="#111" stroke-width="1"/>
<text x="26.8" y="506.47" font-size="5.4" text-anchor="end" textLength="9.75" lengthAdjust="spacingAndGlyphs" stroke="#111" stroke-width="0.12" fill="#111">200</text>
<line x1="28.3" y1="472.44" x2="30.7" y2="472.44" stroke="#111" stroke-width="1"/>
<text x="26.8" y="474.64" font-size="5.4" text-anchor="end" textLength="9.75" lengthAdjust="spacingAndGlyphs" stroke="#111" stroke-width="0.12" fill="#111">400</text>
<line x1="28.3" y1="440.61" x2="30.7" y2="440.61" stroke="#111" stroke-width="1"/>
<text x="26.8" y="442.81" font-size="5.4" text-anchor="end" textLength="9.75" lengthAdjust="spacingAndGlyphs" stroke="#111" stroke-width="0.12" fill="#111">600</text>
<line x1="28.3" y1="408.78" x2="30.7" y2="408.78" stroke="#111" stroke-width="1"/>
<text x="26.8" y="410.98" font-size="5.4" text-anchor="end" textLength="9.75" lengthAdjust="spacingAndGlyphs" stroke="#111" stroke-width="0.12" fill="#111">800</text>
<text x="127.55" y="551.82" font-size="6.49" font-weight="bold" text-anchor="middle" textLength="138.3" lengthAdjust="spacingAndGlyphs" stroke="#111" stroke-width="0.2" fill="#111">Lowest Singlet Excitation Energy (eV)</text>
<text transform="translate(13.57 464.05) rotate(-90)" font-size="6.49" font-weight="bold" text-anchor="middle" textLength="59.8" lengthAdjust="spacingAndGlyphs" stroke="#111" stroke-width="0.2" fill="#111">Molecule Counts</text>
<line x1="173.7" y1="399.2" x2="184.7" y2="399.2" stroke="#2e7d32" stroke-width="2"/>
<text x="188.9" y="401.3" font-size="5.5" textLength="30" lengthAdjust="spacingAndGlyphs" stroke="#111" stroke-width="0.1" fill="#111">Mean: 5.61</text>
<text class="pl" x="0.5" y="393.5" font-size="15" font-weight="bold" fill="#1a1a1a">(g)</text>
</g>
<g>
<line x1="364.8" y1="535.9" x2="364.8" y2="392" stroke="#2e7d32" stroke-width="2.2" stroke-dasharray="14.1 3.5 2.2 3.5"/>
<polygon points="258.6,535.9 258.6,534.95 260.3,534.95 260.3,534.65 262,534.65 262,534.79 282.44,534.79 282.44,533.18 286.09,533.18 286.09,534.35 297.04,534.35 297.04,530.55 299.96,530.55 299.96,529.53 303.61,529.53 303.61,532.16 305.8,532.16 305.8,533.18 307.99,533.18 307.99,530.99 309.45,530.99 309.45,526.32 311.2,526.32 311.2,517.56 314.55,517.56 314.55,529.24 316.45,529.24 316.45,530.99 318.2,530.99 318.2,518.15 321.56,518.15 321.56,524.42 323.61,524.42 323.61,513.18 325.07,513.18 325.07,512.01 327.26,512.01 327.26,508.8 329.15,508.8 329.15,497.71 330.91,497.71 330.91,482.09 335.72,482.09 335.72,488.95 337.91,488.95 337.91,443.1 339.9,443.1 339.9,398.1 342.8,398.1 342.8,425.3 344.7,425.3 344.7,452.1 346.6,452.1 346.6,488.7 348.4,488.7 348.4,504.4 350.3,504.4 350.3,506.9 352.1,506.9 352.1,502.1 355.4,502.1 355.4,505.4 357.1,505.4 357.1,511.3 358.9,511.3 358.9,519.3 360.8,519.3 360.8,512.3 363.4,512.3 363.4,493.8 366.2,493.8 366.2,410.2 369.9,410.2 369.9,416.5 371.6,416.5 371.6,466.2 373.5,466.2 373.5,485.7 375.4,485.7 375.4,509.1 377.1,509.1 377.1,505.4 379,505.4 379,486.9 381.9,486.9 381.9,483.5 384.4,483.5 384.4,462.1 388.1,462.1 388.1,458 391.1,458 391.1,499.6 393.2,499.6 393.2,495.7 396.8,495.7 396.8,487.9 400.2,487.9 400.2,488.7 406,488.7 406,470.8 408.9,470.8 408.9,514.2 410.7,514.2 410.7,516.1 412.6,516.1 412.6,532.2 414.5,532.2 414.5,534.2 416.3,534.2 416.3,535.1 438.83,535.1 438.83,535.9" fill="#2a8b94"/>
<line x1="377.3" y1="505.6" x2="377.3" y2="515" stroke="#fff" stroke-width="0.55" stroke-opacity="0.6"/>
<line x1="391.2" y1="499.8" x2="391.2" y2="507.5" stroke="#fff" stroke-width="0.55" stroke-opacity="0.6"/>
<line x1="403.9" y1="488.8" x2="403.9" y2="493.5" stroke="#fff" stroke-width="0.55" stroke-opacity="0.6"/>
<line x1="364.8" y1="535.9" x2="364.8" y2="392" stroke="#3c8038" stroke-width="1.9" stroke-opacity="0.85" stroke-dasharray="14.1 3.5 2.2 3.5"/>
<rect x="258.6" y="392" width="193.8" height="143.9" fill="none" stroke="#111" stroke-width="1.5"/>
<line x1="258.6" y1="535.9" x2="258.6" y2="538.3" stroke="#111" stroke-width="1"/>
<text x="258.6" y="543.6" font-size="5.4" text-anchor="middle" textLength="3.25" lengthAdjust="spacingAndGlyphs" stroke="#111" stroke-width="0.12" fill="#111">0</text>
<line x1="297.36" y1="535.9" x2="297.36" y2="538.3" stroke="#111" stroke-width="1"/>
<text x="297.36" y="543.6" font-size="5.4" text-anchor="middle" textLength="3.25" lengthAdjust="spacingAndGlyphs" stroke="#111" stroke-width="0.12" fill="#111">2</text>
<line x1="336.12" y1="535.9" x2="336.12" y2="538.3" stroke="#111" stroke-width="1"/>
<text x="336.12" y="543.6" font-size="5.4" text-anchor="middle" textLength="3.25" lengthAdjust="spacingAndGlyphs" stroke="#111" stroke-width="0.12" fill="#111">4</text>
<line x1="374.88" y1="535.9" x2="374.88" y2="538.3" stroke="#111" stroke-width="1"/>
<text x="374.88" y="543.6" font-size="5.4" text-anchor="middle" textLength="3.25" lengthAdjust="spacingAndGlyphs" stroke="#111" stroke-width="0.12" fill="#111">6</text>
<line x1="413.64" y1="535.9" x2="413.64" y2="538.3" stroke="#111" stroke-width="1"/>
<text x="413.64" y="543.6" font-size="5.4" text-anchor="middle" textLength="3.25" lengthAdjust="spacingAndGlyphs" stroke="#111" stroke-width="0.12" fill="#111">8</text>
<line x1="452.4" y1="535.9" x2="452.4" y2="538.3" stroke="#111" stroke-width="1"/>
<text x="452.4" y="543.6" font-size="5.4" text-anchor="middle" textLength="6.5" lengthAdjust="spacingAndGlyphs" stroke="#111" stroke-width="0.12" fill="#111">10</text>
<line x1="256.2" y1="535.9" x2="258.6" y2="535.9" stroke="#111" stroke-width="1"/>
<text x="254.7" y="538.1" font-size="5.4" text-anchor="end" textLength="3.25" lengthAdjust="spacingAndGlyphs" stroke="#111" stroke-width="0.12" fill="#111">0</text>
<line x1="256.2" y1="518.85" x2="258.6" y2="518.85" stroke="#111" stroke-width="1"/>
<text x="254.7" y="521.05" font-size="5.4" text-anchor="end" textLength="9.75" lengthAdjust="spacingAndGlyphs" stroke="#111" stroke-width="0.12" fill="#111">200</text>
<line x1="256.2" y1="501.8" x2="258.6" y2="501.8" stroke="#111" stroke-width="1"/>
<text x="254.7" y="504" font-size="5.4" text-anchor="end" textLength="9.75" lengthAdjust="spacingAndGlyphs" stroke="#111" stroke-width="0.12" fill="#111">400</text>
<line x1="256.2" y1="484.75" x2="258.6" y2="484.75" stroke="#111" stroke-width="1"/>
<text x="254.7" y="486.95" font-size="5.4" text-anchor="end" textLength="9.75" lengthAdjust="spacingAndGlyphs" stroke="#111" stroke-width="0.12" fill="#111">600</text>
<line x1="256.2" y1="467.7" x2="258.6" y2="467.7" stroke="#111" stroke-width="1"/>
<text x="254.7" y="469.9" font-size="5.4" text-anchor="end" textLength="9.75" lengthAdjust="spacingAndGlyphs" stroke="#111" stroke-width="0.12" fill="#111">800</text>
<line x1="256.2" y1="450.65" x2="258.6" y2="450.65" stroke="#111" stroke-width="1"/>
<text x="254.7" y="452.85" font-size="5.4" text-anchor="end" textLength="13" lengthAdjust="spacingAndGlyphs" stroke="#111" stroke-width="0.12" fill="#111">1000</text>
<line x1="256.2" y1="433.6" x2="258.6" y2="433.6" stroke="#111" stroke-width="1"/>
<text x="254.7" y="435.8" font-size="5.4" text-anchor="end" textLength="13" lengthAdjust="spacingAndGlyphs" stroke="#111" stroke-width="0.12" fill="#111">1200</text>
<line x1="256.2" y1="416.55" x2="258.6" y2="416.55" stroke="#111" stroke-width="1"/>
<text x="254.7" y="418.75" font-size="5.4" text-anchor="end" textLength="13" lengthAdjust="spacingAndGlyphs" stroke="#111" stroke-width="0.12" fill="#111">1400</text>
<line x1="256.2" y1="399.5" x2="258.6" y2="399.5" stroke="#111" stroke-width="1"/>
<text x="254.7" y="401.7" font-size="5.4" text-anchor="end" textLength="13" lengthAdjust="spacingAndGlyphs" stroke="#111" stroke-width="0.12" fill="#111">1600</text>
<text x="355.5" y="551.93" font-size="6.51" font-weight="bold" text-anchor="middle" textLength="138.7" lengthAdjust="spacingAndGlyphs" stroke="#111" stroke-width="0.2" fill="#111">Lowest Singlet Excitation Energy (eV)</text>
<text transform="translate(238.57 463.95) rotate(-90)" font-size="6.51" font-weight="bold" text-anchor="middle" textLength="59.8" lengthAdjust="spacingAndGlyphs" stroke="#111" stroke-width="0.2" fill="#111">Molecule Counts</text>
<line x1="401.6" y1="399.2" x2="412.7" y2="399.2" stroke="#2e7d32" stroke-width="2"/>
<text x="416.8" y="401.3" font-size="5.5" textLength="30.4" lengthAdjust="spacingAndGlyphs" stroke="#111" stroke-width="0.1" fill="#111">Mean: 5.48</text>
<text class="pl" x="227.6" y="393.5" font-size="15" font-weight="bold" fill="#1a1a1a">(h)</text>
</g>
<g>
<line x1="579.3" y1="536.3" x2="579.3" y2="392.2" stroke="#2e7d32" stroke-width="2.2" stroke-dasharray="14.1 3.5 2.2 3.5"/>
<polygon points="505.22,536.3 505.22,535.08 509.16,535.08 509.16,529.82 512.08,529.82 512.08,520.04 514.71,520.04 514.71,525.88 516.46,525.88 516.46,521.21 519.09,521.21 519.09,528.07 522.74,528.07 522.74,533.18 524.2,533.18 524.2,534.5 528.28,534.5 528.28,532.74 530.77,532.74 530.77,533.91 532.23,533.91 532.23,532.16 534.71,532.16 534.71,533.18 536.17,533.18 536.17,530.99 538.8,530.99 538.8,533.18 542.01,533.18 542.01,529.09 544.34,529.09 544.34,523.4 546.82,523.4 546.82,525.45 548.72,525.45 548.72,524.42 551.2,524.42 551.2,526.61 552.66,526.61 552.66,526.91 554.85,526.91 554.85,523.4 557.77,523.4 557.77,525.15 559.53,525.15 559.53,522.23 560.99,522.23 560.99,507.6 562.5,507.6 562.5,500.8 565.8,500.8 565.8,517.6 567.3,517.6 567.3,526.6 569.5,526.6 569.5,520 572,520 572,525.2 573.9,525.2 573.9,512.3 576.4,512.3 576.4,514.2 577.5,514.2 577.5,504.7 580.4,504.7 580.4,489.4 582.2,489.4 582.2,466 583.6,466 583.6,442.4 584.6,442.4 584.6,407.3 588.7,407.3 588.7,413.9 590.1,413.9 590.1,423.4 592,423.4 592,447.5 593.1,447.5 593.1,398.6 595,398.6 595,439 596.4,439 596.4,457.7 597.3,457.7 597.3,533.9 598.2,533.9 598.2,535.2 603,535.2 603,536.3 605.3,536.3 605.3,533.6 610.8,533.6 610.8,535.5 612.4,535.5 612.4,536.3" fill="#2a8b94"/>
<line x1="579.3" y1="536.3" x2="579.3" y2="392.2" stroke="#3c8038" stroke-width="1.9" stroke-opacity="0.85" stroke-dasharray="14.1 3.5 2.2 3.5"/>
<rect x="488.5" y="392.2" width="193.6" height="144.1" fill="none" stroke="#111" stroke-width="1.5"/>
<line x1="488.5" y1="536.3" x2="488.5" y2="538.7" stroke="#111" stroke-width="1"/>
<text x="488.5" y="544" font-size="5.4" text-anchor="middle" textLength="3.25" lengthAdjust="spacingAndGlyphs" stroke="#111" stroke-width="0.12" fill="#111">0</text>
<line x1="527.22" y1="536.3" x2="527.22" y2="538.7" stroke="#111" stroke-width="1"/>
<text x="527.22" y="544" font-size="5.4" text-anchor="middle" textLength="3.25" lengthAdjust="spacingAndGlyphs" stroke="#111" stroke-width="0.12" fill="#111">2</text>
<line x1="565.94" y1="536.3" x2="565.94" y2="538.7" stroke="#111" stroke-width="1"/>
<text x="565.94" y="544" font-size="5.4" text-anchor="middle" textLength="3.25" lengthAdjust="spacingAndGlyphs" stroke="#111" stroke-width="0.12" fill="#111">4</text>
<line x1="604.66" y1="536.3" x2="604.66" y2="538.7" stroke="#111" stroke-width="1"/>
<text x="604.66" y="544" font-size="5.4" text-anchor="middle" textLength="3.25" lengthAdjust="spacingAndGlyphs" stroke="#111" stroke-width="0.12" fill="#111">6</text>
<line x1="643.38" y1="536.3" x2="643.38" y2="538.7" stroke="#111" stroke-width="1"/>
<text x="643.38" y="544" font-size="5.4" text-anchor="middle" textLength="3.25" lengthAdjust="spacingAndGlyphs" stroke="#111" stroke-width="0.12" fill="#111">8</text>
<line x1="682.1" y1="536.3" x2="682.1" y2="538.7" stroke="#111" stroke-width="1"/>
<text x="682.1" y="544" font-size="5.4" text-anchor="middle" textLength="6.5" lengthAdjust="spacingAndGlyphs" stroke="#111" stroke-width="0.12" fill="#111">10</text>
<line x1="486.1" y1="536.3" x2="488.5" y2="536.3" stroke="#111" stroke-width="1"/>
<text x="484.6" y="538.5" font-size="5.4" text-anchor="end" textLength="3.25" lengthAdjust="spacingAndGlyphs" stroke="#111" stroke-width="0.12" fill="#111">0</text>
<line x1="486.1" y1="509.95" x2="488.5" y2="509.95" stroke="#111" stroke-width="1"/>
<text x="484.6" y="512.15" font-size="5.4" text-anchor="end" textLength="6.5" lengthAdjust="spacingAndGlyphs" stroke="#111" stroke-width="0.12" fill="#111">50</text>
<line x1="486.1" y1="483.6" x2="488.5" y2="483.6" stroke="#111" stroke-width="1"/>
<text x="484.6" y="485.8" font-size="5.4" text-anchor="end" textLength="9.75" lengthAdjust="spacingAndGlyphs" stroke="#111" stroke-width="0.12" fill="#111">100</text>
<line x1="486.1" y1="457.25" x2="488.5" y2="457.25" stroke="#111" stroke-width="1"/>
<text x="484.6" y="459.45" font-size="5.4" text-anchor="end" textLength="9.75" lengthAdjust="spacingAndGlyphs" stroke="#111" stroke-width="0.12" fill="#111">150</text>
<line x1="486.1" y1="430.9" x2="488.5" y2="430.9" stroke="#111" stroke-width="1"/>
<text x="484.6" y="433.1" font-size="5.4" text-anchor="end" textLength="9.75" lengthAdjust="spacingAndGlyphs" stroke="#111" stroke-width="0.12" fill="#111">200</text>
<line x1="486.1" y1="404.55" x2="488.5" y2="404.55" stroke="#111" stroke-width="1"/>
<text x="484.6" y="406.75" font-size="5.4" text-anchor="end" textLength="9.75" lengthAdjust="spacingAndGlyphs" stroke="#111" stroke-width="0.12" fill="#111">250</text>
<text x="585.3" y="551.93" font-size="6.51" font-weight="bold" text-anchor="middle" textLength="138.7" lengthAdjust="spacingAndGlyphs" stroke="#111" stroke-width="0.2" fill="#111">Lowest Singlet Excitation Energy (eV)</text>
<text transform="translate(470.87 464.25) rotate(-90)" font-size="6.51" font-weight="bold" text-anchor="middle" textLength="59.8" lengthAdjust="spacingAndGlyphs" stroke="#111" stroke-width="0.2" fill="#111">Molecule Counts</text>
<rect x="629.2" y="394.9" width="50.2" height="9.8" rx="1" ry="1" fill="#fff" fill-opacity="0.8" stroke="#c6c6c6" stroke-width="0.9"/>
<line x1="631.5" y1="399.6" x2="642.4" y2="399.6" stroke="#2e7d32" stroke-width="2"/>
<text x="647.1" y="401.7" font-size="5.5" textLength="30" lengthAdjust="spacingAndGlyphs" stroke="#111" stroke-width="0.1" fill="#111">Mean: 4.69</text>
<text class="pl" x="461" y="393.5" font-size="15" font-weight="bold" fill="#1a1a1a">(i)</text>
</g>
</svg>
</body>
</html>
